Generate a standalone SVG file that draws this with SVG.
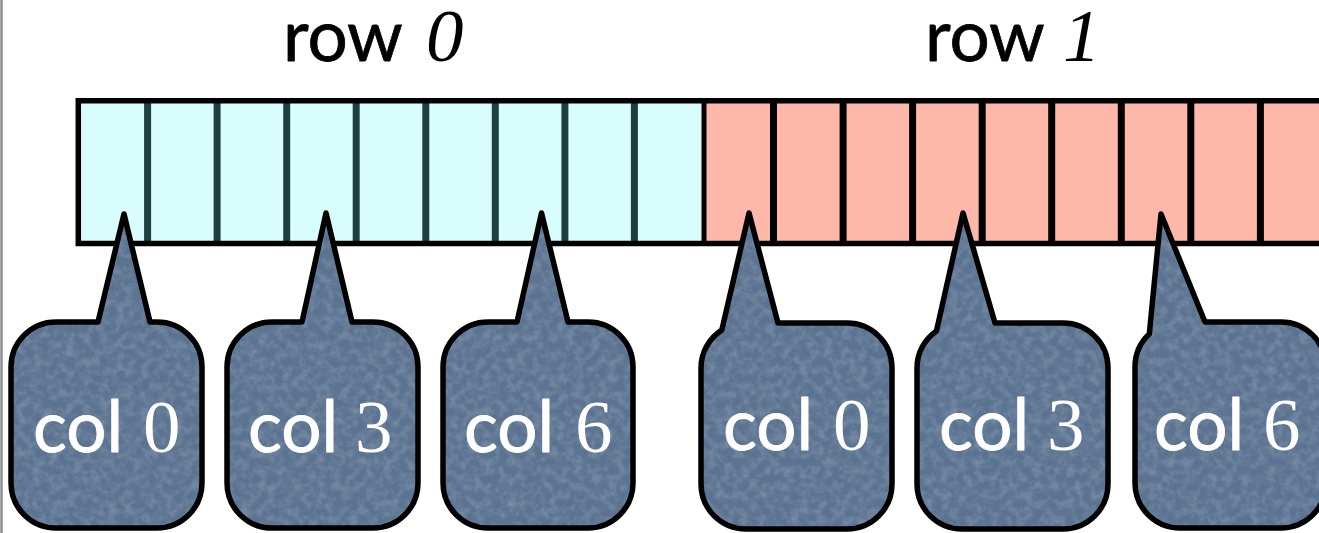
<svg xmlns="http://www.w3.org/2000/svg" width="1319" height="533" viewBox="0 0 1319 533">
  <style>
    .sans { font-family: Lato, "Liberation Sans", sans-serif; font-size: 71px; font-weight: 400; stroke-width: 0.8px; stroke-linejoin: round; }
    .num { font-family: "Liberation Serif", "Times New Roman", serif; font-size: 75px; }
    .ital { font-style: italic; }
    .title { fill: #000000; }
    .sans.title { stroke: #000000; }
    .label { fill: #ffffff; }
    .sans.label { stroke: #ffffff; }
    .cell-a { fill: #d9fdfd; }
    .cell-b { fill: #fdb8aa; }
    .div-a { stroke: #1e3f3f; stroke-width: 7; }
    .div-b { stroke: #000000; stroke-width: 7; }
    .body { fill: #5b7391; stroke: none; }
    .grain { fill: #ffffff; stroke: none; filter: url(#mottle); }
    .rim { fill: none; stroke: #000000; stroke-width: 5.5; stroke-linejoin: round; }
  </style>
  <defs>
    <!-- faint mottled texture for the callout fill -->
    <filter id="mottle" x="0" y="0" width="100%" height="100%" filterUnits="objectBoundingBox">
      <feTurbulence type="fractalNoise" baseFrequency="0.12" numOctaves="3" seed="7" result="noise"/>
      <feColorMatrix in="noise" type="matrix" values="0 0 0 0 1  0 0 0 0 1  0 0 0 0 1  0.35 0 0 0 -0.13" result="spots"/>
      <feComposite in="spots" in2="SourceAlpha" operator="in"/>
    </filter>
    <path id="b1" d="M56 322 H98 L124 214 L150 322 H157 A45 45 0 0 1 202 367 V483 A45 45 0 0 1 157 528 H56 A45 45 0 0 1 11 483 V367 A45 45 0 0 1 56 322 Z"/>
    <path id="b2" d="M272 322 H302 L326 213 L352 322 H373 A45 45 0 0 1 418 367 V483 A45 45 0 0 1 373 528 H272 A45 45 0 0 1 227 483 V367 A45 45 0 0 1 272 322 Z"/>
    <path id="b3" d="M488 322 H517 L541.5 213 L568 322 H588 A45 45 0 0 1 633 367 V483 A45 45 0 0 1 588 528 H488 A45 45 0 0 1 443 483 V367 A45 45 0 0 1 488 322 Z"/>
    <path id="b4" d="M721.8 330.1 L749 213 L778 323 H847 A45 45 0 0 1 892 368 V484 A45 45 0 0 1 847 529 H746 A45 45 0 0 1 701 484 V368 A45 45 0 0 1 721.8 330.1 Z"/>
    <path id="b5" d="M936.5 330.9 L963 213 L995 323 H1063 A45 45 0 0 1 1108 368 V484 A45 45 0 0 1 1063 529 H962 A45 45 0 0 1 917 484 V368 A45 45 0 0 1 936.5 330.9 Z"/>
    <path id="b6" d="M1149.3 334.1 L1161 214 L1205 322 H1281 A45 45 0 0 1 1326 367 V483 A45 45 0 0 1 1281 528 H1180 A45 45 0 0 1 1135 483 V367 A45 45 0 0 1 1149.3 334.1 Z"/>
  </defs>

  <!-- left page edge -->
  <line x1="1.5" y1="0" x2="1.5" y2="533" stroke="#8c8c8c" stroke-width="2.5"/>

  <!-- row headings -->
  <g id="row0-label">
    <text class="sans title" x="283" y="61">row</text>
    <text class="num ital title" x="426" y="61">0</text>
  </g>
  <g id="row1-label">
    <text class="sans title" x="925" y="61">row</text>
    <text class="num ital title" x="1063" y="61">1</text>
  </g>

  <!-- flattened 2D array: row 0 then row 1, nine cells each -->
  <g id="array">
    <rect class="cell-a" x="78" y="100" width="626" height="144"/>
    <rect class="cell-b" x="704" y="100" width="630" height="144"/>
    <g class="div-a">
      <line x1="147.6" y1="103" x2="147.6" y2="242"/>
      <line x1="217.1" y1="103" x2="217.1" y2="242"/>
      <line x1="286.7" y1="103" x2="286.7" y2="242"/>
      <line x1="356.2" y1="103" x2="356.2" y2="242"/>
      <line x1="425.8" y1="103" x2="425.8" y2="242"/>
      <line x1="495.3" y1="103" x2="495.3" y2="242"/>
      <line x1="564.9" y1="103" x2="564.9" y2="242"/>
      <line x1="634.4" y1="103" x2="634.4" y2="242"/>
    </g>
    <line x1="704" y1="103" x2="704" y2="242" stroke="#000000" stroke-width="5"/>
    <g class="div-b">
      <line x1="773.5" y1="103" x2="773.5" y2="242"/>
      <line x1="843.1" y1="103" x2="843.1" y2="242"/>
      <line x1="912.6" y1="103" x2="912.6" y2="242"/>
      <line x1="982.2" y1="103" x2="982.2" y2="242"/>
      <line x1="1051.7" y1="103" x2="1051.7" y2="242"/>
      <line x1="1121.3" y1="103" x2="1121.3" y2="242"/>
      <line x1="1190.8" y1="103" x2="1190.8" y2="242"/>
      <line x1="1260.4" y1="103" x2="1260.4" y2="242"/>
    </g>
    <path d="M1330 100.8 H78.3 V243.5 H1330" fill="none" stroke="#000000" stroke-width="5.5"/>
  </g>

  <!-- column callouts: fill, texture, outline, label -->
  <g id="callout-r0-c0">
    <use href="#b1" class="body"/><use href="#b1" class="grain"/><use href="#b1" class="rim"/>
    <text class="sans label" x="33" y="452">col</text>
    <text class="num label" x="143" y="452">0</text>
  </g>
  <g id="callout-r0-c3">
    <use href="#b2" class="body"/><use href="#b2" class="grain"/><use href="#b2" class="rim"/>
    <text class="sans label" x="248" y="452">col</text>
    <text class="num label" x="355" y="452">3</text>
  </g>
  <g id="callout-r0-c6">
    <use href="#b3" class="body"/><use href="#b3" class="grain"/><use href="#b3" class="rim"/>
    <text class="sans label" x="464" y="452">col</text>
    <text class="num label" x="575" y="452">6</text>
  </g>
  <g id="callout-r1-c0">
    <use href="#b4" class="body"/><use href="#b4" class="grain"/><use href="#b4" class="rim"/>
    <text class="sans label" x="723" y="450">col</text>
    <text class="num label" x="833" y="450">0</text>
  </g>
  <g id="callout-r1-c3">
    <use href="#b5" class="body"/><use href="#b5" class="grain"/><use href="#b5" class="rim"/>
    <text class="sans label" x="939" y="450">col</text>
    <text class="num label" x="1047" y="450">3</text>
  </g>
  <g id="callout-r1-c6">
    <use href="#b6" class="body"/><use href="#b6" class="grain"/><use href="#b6" class="rim"/>
    <text class="sans label" x="1154" y="450">col</text>
    <text class="num label" x="1263" y="450">6</text>
  </g>
</svg>
